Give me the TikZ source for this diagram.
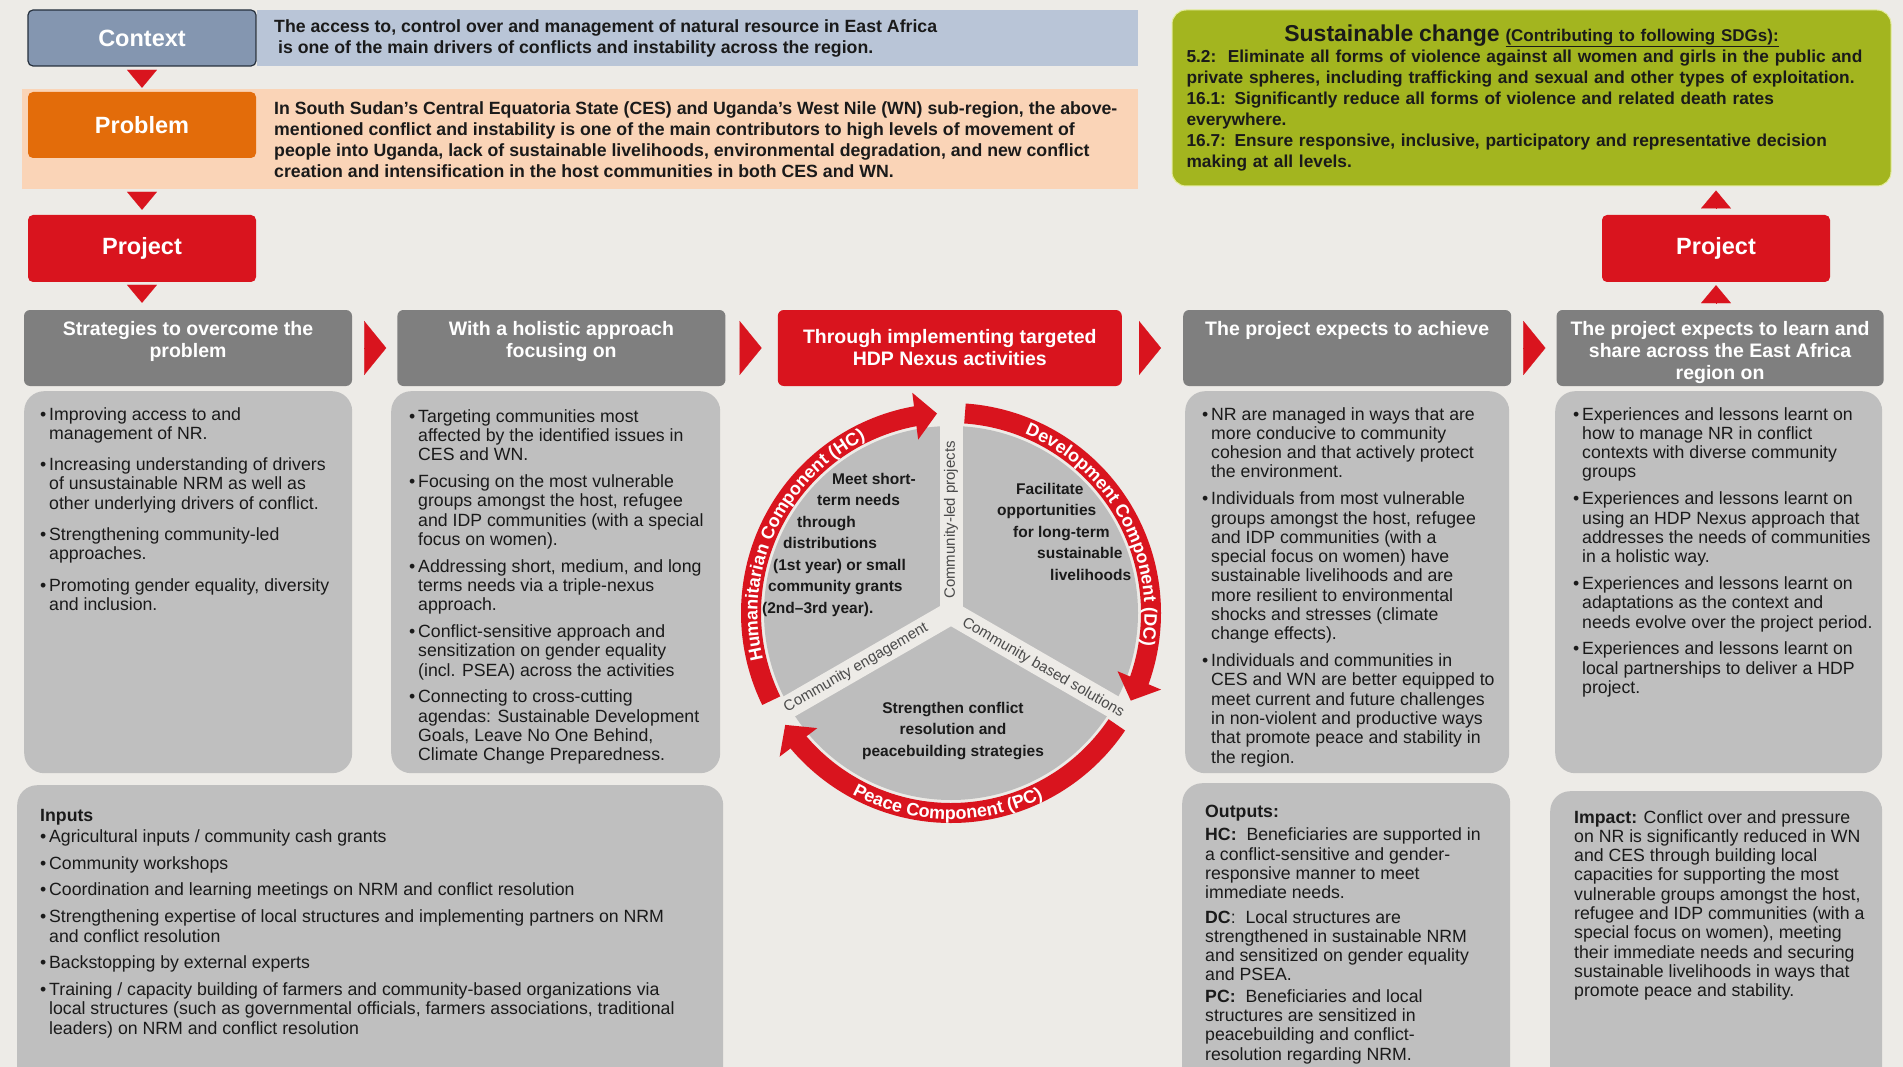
\documentclass[tikz,border=0pt]{standalone}
\usepackage{fontspec}
\setmainfont{Liberation Sans}
\usetikzlibrary{positioning,arrows.meta,bending,decorations.text}

\definecolor{bgcol}{HTML}{EDEBE7}
\definecolor{ctxcol}{HTML}{8496B0}
\definecolor{ctxedge}{HTML}{26303D}
\definecolor{ctxband}{HTML}{B9C5D7}
\definecolor{probcol}{HTML}{E36C0A}
\definecolor{probband}{HTML}{FAD4B7}
\definecolor{hdpred}{HTML}{D9141E}
\definecolor{sdgcol}{HTML}{A3B51F}
\definecolor{sdgedge}{HTML}{E4EC9C}
\definecolor{hdrgray}{HTML}{7F7F7F}
\definecolor{panelgray}{HTML}{BFBFBF}
\definecolor{wheelgray}{HTML}{BDBDBD}
\definecolor{txtdark}{HTML}{1A1A1A}
\definecolor{stripgray}{HTML}{4A4A4A}

\newcommand\txtbody{\fontsize{17.7}{19.3}\selectfont}
\newcommand\txtband{\fontsize{17.7}{21}\selectfont\bfseries}
\newcommand\txtsdg{\fontsize{17.3}{21}\selectfont\bfseries}
\newcommand\txthdr{\fontsize{19.5}{22}\selectfont\bfseries}
\newcommand\txtlbl{\fontsize{23.5}{26}\selectfont\bfseries}
\newcommand\txtwheel{\fontsize{15.5}{21.5}\selectfont\bfseries}
\newcommand\txtring{\fontsize{18}{18}\selectfont\bfseries}
\newcommand\txtstrip{\fontsize{15}{15}\selectfont}

% bullet paragraph with hanging indent
\newcommand\bitem[1][7.5pt]{\par\vskip#1\relax\hangindent=9pt\hangafter=1\noindent\makebox[9pt][l]{\textbullet}}
\newcommand\paneltext[2][420pt]{\parbox[t]{#1}{\txtbody\rightskip=0pt plus 1fil\relax #2}}
\newcommand\hdrtext[3]{\parbox[t][#2][t]{#1}{\txthdr\centering #3}}

\begin{document}
\begin{tikzpicture}[
  x=1pt, y=1pt,
  lbl/.style={rounded corners=5pt, minimum width=228pt, text=white, font=\txtlbl, inner sep=0pt},
  bandbg/.style={anchor=north west, inner sep=0pt},
  bandtxt/.style={anchor=west, align=left, font=\txtband, text=txtdark, inner sep=0pt},
  hdr/.style={rounded corners=6pt, fill=hdrgray, text=white, inner xsep=4pt},
  panel/.style={rounded corners=20pt, fill=panelgray, anchor=north west, inner sep=0pt},
  ptxt/.style={anchor=north west, text=txtdark, inner sep=0pt},
  tri/.style={-{Triangle[length=18pt,width=30pt]}, line width=0.1pt, hdpred},
  rtri/.style={-{Triangle[length=22pt,width=54pt]}, line width=0.1pt, hdpred},
  ringarr/.style={hdpred, line width=20pt, -{Triangle[length=22pt,width=46pt]}},
  strip/.style={bgcol, line width=23pt},
  wheeltxt/.style={font=\txtwheel, text=txtdark, inner sep=0pt},
  striptxt/.style={font=\txtstrip, text=stripgray, inner sep=0pt},
  ringtxt/.style={decorate, decoration={text along path, text align=center,
                  text={|\txtring\color{white}|#1}}},
]
  \useasboundingbox (0,0) rectangle (1903,-1067);
  \clip (0,0) rectangle (1903,-1067);
  \fill[bgcol] (0,0) rectangle (1903,-1067);

  % Context and problem
  \node[bandbg, fill=ctxband, minimum width=881pt, minimum height=56pt] (ctxbg) at (257,-10) {};
  \node[lbl, fill=ctxcol, draw=ctxedge, line width=1.2pt, minimum height=56pt] (ctx) at (142,-38) {Context};
  \node[bandtxt] (ctxtxt) at (274,-38)
    {The access to, control over and management of natural resource in East Africa\\
     \hspace*{4pt}is one of the main drivers of conflicts and instability across the region.};
  \node[bandbg, fill=probband, minimum width=1116pt, minimum height=100pt] (probbg) at (22,-89) {};
  \node[lbl, fill=probcol, minimum height=66pt] (prob) at (142,-125) {Problem};
  \node[bandtxt] (probtxt) at (274,-139.5)
    {In South Sudan's Central Equatoria State (CES) and Uganda's West Nile (WN) sub-region, the above-\\
     mentioned conflict and instability is one of the main contributors to high levels of movement of\\
     people into Uganda, lack of sustainable livelihoods, environmental degradation, and new conflict\\
     creation and intensification in the host communities in both CES and WN.};

  % Sustainable change
  \node[fill=sdgcol, draw=sdgedge, line width=1pt, rounded corners=14pt, minimum height=176pt,
        text width=690pt, inner xsep=14.5pt, align=left, font=\txtsdg, text=txtdark] (sdg) at (1531.5,-98)
    {\makebox[690pt][c]{\fontsize{23}{21}\selectfont Sustainable change \fontsize{17}{21}\selectfont\underline{(Contributing to following SDGs):}}\\
     5.2:\ \ Eliminate all forms of violence against all women and girls in the public and\\
     private spheres, including\ trafficking and sexual and other types of exploitation.\\
     16.1: Significantly reduce all forms of violence and related death rates\\
     everywhere.\\
     16.7: Ensure responsive, inclusive, participatory and representative decision\\
     making at all levels.};

  % Project boxes
  \node[lbl, fill=hdpred, minimum height=67pt] (prjL) at (142,-248.5) {Project};
  \node[lbl, fill=hdpred, minimum height=67pt] (prjR) at (1716,-248.5) {Project};

  % Header row
  \node[hdr, inner ysep=11pt] (h1) at (188,-348) {\hdrtext{320pt}{54pt}{Strategies to overcome the\\problem}};
  \node[hdr, inner ysep=11pt, right=45pt of h1] (h2) {\hdrtext{320pt}{54pt}{With a holistic approach\\focusing on}};
  \node[hdr, fill=hdpred, inner ysep=19pt, right=52pt of h2] (h3) {\hdrtext{336pt}{38pt}{Through implementing targeted\\HDP Nexus activities}};
  \node[hdr, inner ysep=11pt, right=61pt of h3] (h4) {\hdrtext{320pt}{54pt}{The project expects to achieve}};
  \node[hdr, inner ysep=11pt, right=45pt of h4] (h5) {\hdrtext{319pt}{54pt}{The project expects to learn and\\share across the East Africa\\region on}};

  % Content panels
  \node[panel, minimum width=328pt, minimum height=382pt] (c1) at (24,-391) {};
  \node[panel, minimum width=329pt, minimum height=382pt] (c2) at (391,-391) {};
  \node[panel, minimum width=324pt, minimum height=382pt] (c4) at (1185,-391) {};
  \node[panel, minimum width=327pt, minimum height=382pt] (c5) at (1555,-391) {};
  \node[panel, minimum width=706pt, minimum height=330pt] (inp) at (17,-785) {};
  \node[panel, minimum width=328pt, minimum height=330pt] (outp) at (1182,-783) {};
  \node[panel, minimum width=332pt, minimum height=330pt] (imp) at (1550,-791) {};

  \node[ptxt] (c1t) at ([shift={(16,-16)}]c1.north west) {\paneltext{%
    \bitem[0pt]Improving access to and\\management of NR.
    \bitem[12pt]Increasing understanding of drivers\\of unsustainable NRM as well as\\other underlying drivers of conflict.
    \bitem[12pt]Strengthening community-led\\approaches.
    \bitem[12pt]Promoting gender equality, diversity\\and inclusion.}};
  \node[ptxt] (c2t) at ([shift={(18,-18)}]c2.north west) {\paneltext{%
    \bitem[0pt]Targeting communities most\\affected by the identified issues in\\CES and WN.
    \bitem Focusing on the most vulnerable\\groups amongst the host, refugee\\and IDP communities (with a special\\focus on women).
    \bitem Addressing short, medium, and long\\terms needs via a triple-nexus\\approach.
    \bitem Conflict-sensitive approach and\\sensitization on gender equality\\(incl. PSEA) across the activities
    \bitem Connecting to cross-cutting\\agendas: Sustainable Development\\Goals, Leave No One Behind,\\Climate Change Preparedness.}};
  \node[ptxt] (c4t) at ([shift={(17,-16)}]c4.north west) {\paneltext{%
    \bitem[0pt]NR are managed in ways that are\\more conducive to community\\cohesion and that actively protect\\the environment.
    \bitem Individuals from most vulnerable\\groups amongst the host, refugee\\and IDP communities (with a\\special focus on women) have\\sustainable livelihoods and are\\more resilient to environmental\\shocks and stresses (climate\\change effects).
    \bitem Individuals and communities in\\CES and WN are better equipped to\\meet current and future challenges\\in non-violent and productive ways\\that promote peace and stability in\\the region.}};
  \node[ptxt] (c5t) at ([shift={(18,-16)}]c5.north west) {\paneltext{%
    \bitem[0pt]Experiences and lessons learnt on\\how to manage NR in conflict\\contexts with diverse community\\groups
    \bitem Experiences and lessons learnt on\\using an HDP Nexus approach that\\addresses the needs of communities\\in a holistic way.
    \bitem Experiences and lessons learnt on\\adaptations as the context and\\needs evolve over the project period.
    \bitem Experiences and lessons learnt on\\local partnerships to deliver a HDP\\project.}};
  \node[ptxt] (inpt) at ([shift={(23,-24)}]inp.north west) {\paneltext[700pt]{%
    {\bfseries Inputs}\par\vskip1.7pt
    \bitem[0pt]Agricultural inputs / community cash grants
    \bitem Community workshops
    \bitem Coordination and learning meetings on NRM and conflict resolution
    \bitem Strengthening expertise of local structures and implementing partners on NRM\\and conflict resolution
    \bitem Backstopping by external experts
    \bitem Training / capacity\ building of farmers and community-based organizations via\\local structures (such as governmental officials, farmers associations, traditional\\leaders) on NRM and conflict resolution}};
  \node[ptxt] (outpt) at ([shift={(23,-22)}]outp.north west) {\paneltext{%
    {\bfseries Outputs:}\par\vskip4pt
    {\bfseries HC:}\ \ Beneficiaries are supported in\\a conflict-sensitive and gender-\\responsive manner to meet\\immediate needs.\par\vskip5pt
    {\bfseries DC}:\ \ Local structures are\\strengthened in sustainable NRM\\and sensitized on gender equality\\and PSEA.\par\vskip2pt
    {\bfseries PC:}\ \ Beneficiaries and local\\structures are sensitized in\\peacebuilding and conflict-\\resolution regarding NRM.}};
  \node[ptxt] (impt) at ([shift={(24,-19)}]imp.north west) {\paneltext{%
    {\bfseries Impact:} Conflict over and pressure\\on NR is significantly reduced in WN\\and CES through building local\\capacities for supporting the most\\vulnerable groups amongst the host,\\refugee and IDP communities (with a\\special focus on women), meeting\\their immediate needs and securing\\sustainable livelihoods in ways that\\promote peace and stability.}};

  % HDP wheel
  \coordinate (hub) at (951,-613);
  \fill[wheelgray] (hub) circle (187);
  \foreach \a in {90,210,330}
    \draw[strip] (hub) -- ++(\a:190);
  \draw[ringarr] ([shift={(206:200)}]hub) arc[start angle=206, end angle=94, radius=200];
  \draw[ringarr] ([shift={(86:200)}]hub) arc[start angle=86, end angle=-26, radius=200];
  \draw[ringarr] ([shift={(-34:200)}]hub) arc[start angle=-34, end angle=-146, radius=200];
  \path[ringtxt={Humanitarian Component (HC)}] ([shift={(210:193.5)}]hub) arc[start angle=210, end angle=100, radius=193.5];
  \path[ringtxt={Development Component (DC)}] ([shift={(84:193.5)}]hub) arc[start angle=84, end angle=-26, radius=193.5];
  \path[ringtxt={Peace Component (PC)}] ([shift={(214:206.5)}]hub) arc[start angle=214, end angle=324, radius=206.5];

  \node[wheeltxt, align=left, anchor=north west] (hctxt) at (762,-473)
    {\hspace*{70pt}Meet short-\\\hspace*{55pt}term needs\\\hspace*{35pt}through\\\hspace*{21pt}distributions\\
     \hspace*{11pt}(1st year) or small\\\hspace*{6pt}community grants\\(2nd–3rd year).};
  \node[wheeltxt, align=left, anchor=north west] (dctxt) at (997,-483)
    {\hspace*{19pt}Facilitate\\opportunities\\\hspace*{16pt}for long-term\\\hspace*{40pt}sustainable\\\hspace*{53pt}livelihoods};
  \node[wheeltxt, align=center] (pctxt) at (953,-731)
    {Strengthen conflict\\resolution and\\peacebuilding strategies};
  \node[striptxt, rotate=90] (s1) at (951,-520) {Community-led projects};
  \node[striptxt, rotate=30] (s2) at (856,-668) {Community engagement};
  \node[striptxt, rotate=-30] (s3) at (1043,-668) {Community based solutions};

  % Arrow heads between boxes
  \draw[tri, shorten <=4pt, shorten >=4pt] (ctx) -- (prob);
  \draw[tri, shorten <=34pt, shorten >=5pt] (prob) -- (prjL);
  \draw[tri, shorten <=3pt, shorten >=7pt] (prjL.south) -- (prjL.south |- h1.north);
  \draw[tri, shorten <=6pt, shorten >=4pt] (prjR.north) -- (prjR.north |- sdg.south);
  \draw[tri, shorten <=7pt, shorten >=3pt] (prjR.south |- h5.north) -- (prjR.south);
  \draw[rtri, shorten <=12pt, shorten >=11pt] (h1) -- (h2);
  \draw[rtri, shorten <=14pt, shorten >=16pt] (h2) -- (h3);
  \draw[rtri, shorten <=17pt, shorten >=22pt] (h3) -- (h4);
  \draw[rtri, shorten <=12pt, shorten >=11pt] (h4) -- (h5);
\end{tikzpicture}
\end{document}
